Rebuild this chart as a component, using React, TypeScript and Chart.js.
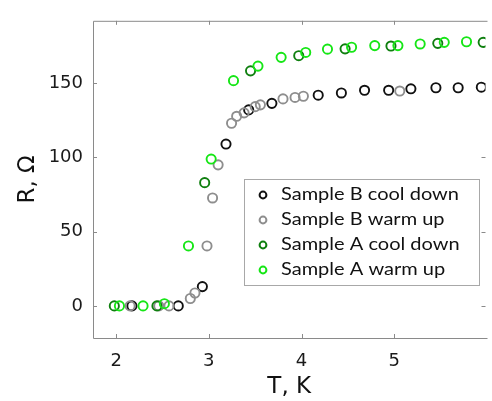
import React, { useEffect, useRef } from "react";
import { Chart, registerables } from "chart.js";

Chart.register(...registerables);

const seriesNames = ["Sample B cool down", "Sample B warm up", "Sample A cool down", "Sample A warm up"];
const seriesColors = ["#111111", "#8e8e8e", "#0f7f0f", "#16e616"];

const bCoolT = [2.17, 2.67, 2.93, 3.185, 3.43, 3.68, 4.18, 4.43, 4.68, 4.94, 5.18, 5.45, 5.69, 5.94];
const bCoolR = [0, 0, 13, 109, 132, 136.4, 141.9, 143.4, 145.2, 145.2, 146.2, 146.9, 146.9, 147.3];

const bWarmT = [2.15, 2.46, 2.57, 2.8, 2.85, 2.98, 3.04, 3.1, 3.245, 3.3, 3.38, 3.5, 3.556, 3.8, 3.93, 4.02, 5.06];
const bWarmR = [0, 0, 0, 5, 8.7, 40.4, 72.7, 95, 123, 127.7, 130, 134.2, 135.4, 139.4, 140.4, 141.2, 144.7];

const aCoolT = [1.98, 2.44, 2.955, 3.45, 3.97, 4.47, 4.965, 5.47, 5.96];
const aCoolR = [0, 0, 83, 158.3, 168.5, 173.1, 175, 176.8, 177.5];

const aWarmT = [2.035, 2.29, 2.52, 2.78, 3.025, 3.266, 3.53, 3.78, 4.045, 4.28, 4.54, 4.79, 5.04, 5.28, 5.54, 5.78];
const aWarmR = [0, 0, 1.5, 40.4, 98.9, 151.7, 161.5, 167.4, 170.7, 172.9, 174.2, 175.3, 175.3, 176.4, 177.5, 177.9];

const xTicks = [2, 3, 4, 5];
const yTicks = [0, 50, 100, 150];
const xRange = [1.75, 5.985];
const yRange = [-21.6, 192];

const toPoints = (t: number[], r: number[]) => t.map((x, i) => ({ x, y: r[i] }));

const framePlugin = {
  id: "frame",
  beforeDatasetsDraw(chart: any) {
    const { ctx, chartArea: a, scales } = chart;
    ctx.save();
    ctx.strokeStyle = "#8a8a8a";
    ctx.lineWidth = 1;
    ctx.beginPath();
    ctx.moveTo(a.left + 0.5, a.bottom + 0.5);
    ctx.lineTo(a.left + 0.5, a.top + 0.5);
    ctx.lineTo(a.right + 2, a.top + 0.5);
    ctx.moveTo(a.left + 0.5, a.bottom + 0.5);
    ctx.lineTo(a.right + 2, a.bottom + 0.5);
    const tl = 4;
    xTicks.forEach((v) => {
      const px = Math.round(scales.x.getPixelForValue(v)) + 0.5;
      ctx.moveTo(px, a.bottom);
      ctx.lineTo(px, a.bottom - tl);
      ctx.moveTo(px, a.top);
      ctx.lineTo(px, a.top + tl);
    });
    yTicks.forEach((v) => {
      const py = Math.round(scales.y.getPixelForValue(v)) + 0.5;
      ctx.moveTo(a.left, py);
      ctx.lineTo(a.left + tl, py);
      ctx.moveTo(a.right, py);
      ctx.lineTo(a.right - tl, py);
    });
    ctx.stroke();
    ctx.restore();
  },
};

const legendPlugin = {
  id: "boxLegend",
  afterDatasetsDraw(chart: any) {
    const { ctx } = chart;
    const bx = 244, by = 179, bw = 235, bh = 106;
    ctx.save();
    ctx.fillStyle = "#ffffff";
    ctx.fillRect(bx, by, bw, bh);
    ctx.strokeStyle = "#a8a8a8";
    ctx.lineWidth = 1;
    ctx.strokeRect(bx + 0.5, by + 0.5, bw, bh);
    ctx.font = "17px Lato";
    ctx.textBaseline = "middle";
    ctx.textAlign = "left";
    const ref = ctx.measureText(seriesNames[0]).width || 1;
    const sx = 178 / ref;
    seriesNames.forEach((name, i) => {
      const cy = 195 + i * 25;
      ctx.beginPath();
      ctx.strokeStyle = seriesColors[i];
      ctx.lineWidth = 2;
      ctx.arc(263, cy, 3.4, 0, Math.PI * 2);
      ctx.stroke();
      ctx.save();
      ctx.translate(281, cy);
      ctx.scale(sx, 1);
      ctx.fillStyle = "#111111";
      ctx.fillText(name, 0, 0);
      ctx.restore();
    });
    ctx.restore();
  },
};

const tickFont = { family: "'DejaVu Sans', sans-serif", size: 18 };
const titleFont = { family: "'DejaVu Sans', sans-serif", size: 23 };

export default function App() {
  const ref = useRef<HTMLCanvasElement | null>(null);
  useEffect(() => {
    if (!ref.current) return;
    const mk = (i: number, t: number[], r: number[], order: number) => ({
      label: seriesNames[i],
      data: toPoints(t, r),
      borderColor: seriesColors[i],
      backgroundColor: "rgba(0,0,0,0)",
      pointRadius: 4.6,
      pointBorderWidth: 1.9,
      pointStyle: "circle",
      showLine: false,
      order,
    });
    const chart = new Chart(ref.current, {
      type: "scatter",
      data: {
        datasets: [
          mk(0, bCoolT, bCoolR, 3),
          mk(1, bWarmT, bWarmR, 2),
          mk(2, aCoolT, aCoolR, 1),
          mk(3, aWarmT, aWarmR, 0),
        ],
      },
      options: {
        animation: false,
        responsive: false,
        layout: { padding: { top: 12, right: 0, bottom: 0, left: 0 } },
        plugins: { legend: { display: false }, tooltip: { enabled: false } },
        scales: {
          x: {
            type: "linear",
            min: xRange[0],
            max: xRange[1],
            grid: { display: false, drawTicks: false },
            border: { display: false },
            afterBuildTicks: (s: any) => {
              s.ticks = xTicks.map((v) => ({ value: v }));
            },
            afterFit: (s: any) => {
              s.height = 63;
            },
            ticks: {
              color: "#1a1a1a",
              font: tickFont,
              padding: 13,
              maxRotation: 0,
              callback: (v: any) => String(v),
            },
            title: {
              display: true,
              text: "T, K",
              color: "#111111",
              font: titleFont,
              padding: { top: 0, bottom: 0 },
            },
          },
          y: {
            type: "linear",
            min: yRange[0],
            max: yRange[1],
            grid: { display: false, drawTicks: false },
            border: { display: false },
            afterBuildTicks: (s: any) => {
              s.ticks = yTicks.map((v) => ({ value: v }));
            },
            afterFit: (s: any) => {
              s.width = 93;
            },
            ticks: {
              color: "#1a1a1a",
              font: tickFont,
              padding: 10,
              callback: (v: any) => String(v),
            },
            title: {
              display: true,
              text: "R, Ω",
              color: "#111111",
              font: titleFont,
              padding: { top: 14, bottom: 0 },
            },
          },
        },
      },
      plugins: [framePlugin, legendPlugin],
    } as any);
    return () => chart.destroy();
  }, []);
  return (
    <div style={{ position: "absolute", left: 0, top: 0, width: 492, height: 401 }}>
      <canvas ref={ref} width={492} height={401} style={{ display: "block", width: 492, height: 401 }} />
    </div>
  );
}
